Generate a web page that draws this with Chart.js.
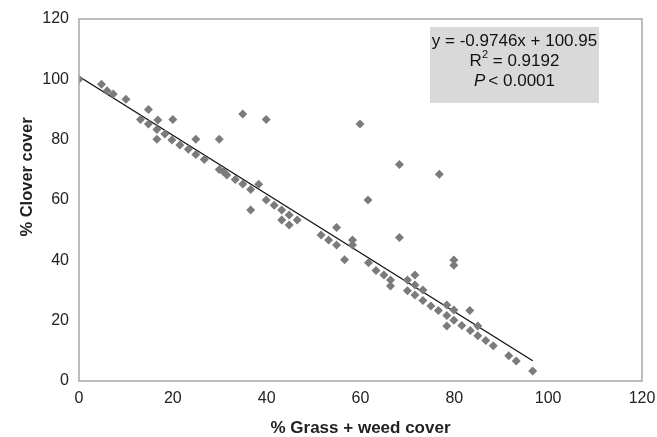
<!DOCTYPE html>
<html>
<head>
<meta charset="utf-8">
<script src="https://cdn.jsdelivr.net/npm/chart.js@4"></script>
<style>
  html, body { margin: 0; padding: 0; background: #fff; }
  #wrap { width: 657px; height: 437px; position: relative; }
</style>
</head>
<body>
<div id="wrap"><canvas id="cloverChart"></canvas></div>
<script>
// Datuak: belar + sasi estaldura (x) eta hirusta estaldura (y)
const grassCover = [
  0, 4.8, 6.0, 7.3, 10.0, 13.1, 14.8, 14.8, 16.6, 16.8,
  16.6, 18.3, 19.8, 20.0, 21.5, 23.3, 24.9, 24.9, 26.7, 29.9,
  29.9, 30.8, 31.5, 33.3, 34.9, 34.9, 36.6, 36.6, 38.3, 39.9,
  39.9, 41.6, 43.2, 44.8, 43.2, 44.8, 46.5, 51.6, 53.2, 54.9,
  54.9, 56.6, 58.3, 58.3, 59.9, 61.6, 61.7, 63.3, 65.0, 66.4,
  66.4, 68.3, 68.3, 70.0, 70.0, 71.6, 71.6, 71.6, 73.3, 73.3,
  75.0, 76.6, 76.8, 78.4, 78.4, 78.4, 79.9, 79.9, 79.9, 79.9,
  81.6, 83.3, 83.4, 85.0, 85.0, 86.7, 88.3, 91.6, 93.2, 96.7
];
const cloverCover = [
  100, 98.4, 96.2, 95.1, 93.4, 86.7, 90.0, 85.2, 83.4, 86.5,
  80.1, 81.9, 79.9, 86.7, 78.2, 76.8, 80.1, 75.1, 73.4, 80.1,
  70.1, 69.4, 68.3, 66.8, 65.3, 88.5, 63.5, 56.7, 65.2, 86.7,
  60.0, 58.3, 56.7, 55.0, 53.4, 51.7, 53.4, 48.4, 46.7, 45.1,
  50.9, 40.2, 46.7, 45.1, 85.2, 60.0, 39.2, 36.6, 35.1, 33.5,
  31.5, 71.8, 47.6, 33.5, 29.9, 35.1, 31.8, 28.5, 30.2, 26.7,
  24.9, 23.4, 68.5, 25.2, 21.7, 18.2, 23.5, 20.1, 40.1, 38.4,
  18.4, 23.4, 16.7, 18.2, 15.0, 13.4, 11.7, 8.4, 6.6, 3.3
];
// Joera-lerroaren muturrak
const trendX = [0, 96.7];
const trendY = [100.95, 6.7];
const tickValues = [0, 20, 40, 60, 80, 100, 120];
const equationLines = ["y = -0.9746x + 100.95", "R2 = 0.9192", "P < 0.0001"];

const points = grassCover.map((x, i) => ({ x: x, y: cloverCover[i] }));
const trend = trendX.map((x, i) => ({ x: x, y: trendY[i] }));

const FONT = "'Liberation Sans', Arial, Helvetica, sans-serif";

// Grafikoaren markoa, Y ardatzaren izenburua eta ekuazio-koadroa
const decorPlugin = {
  id: "decor",
  afterDraw(chart) {
    const { ctx, chartArea } = chart;
    ctx.save();
    ctx.strokeStyle = "#a6a6a6";
    ctx.lineWidth = 1.5;
    ctx.strokeRect(chartArea.left, chartArea.top, chartArea.right - chartArea.left, chartArea.bottom - chartArea.top);

    // Y ardatzaren izenburua
    ctx.fillStyle = "#222";
    ctx.font = "bold 16.5px " + FONT;
    ctx.textAlign = "center";
    ctx.textBaseline = "middle";
    ctx.translate(27, 177);
    ctx.rotate(-Math.PI / 2);
    ctx.fillText("% Clover cover", 0, 0);
    ctx.setTransform(1, 0, 0, 1, 0, 0);

    // Ekuazio-koadroa
    const bx = 430, by = 27, bw = 169, bh = 76;
    ctx.fillStyle = "#d9d9d9";
    ctx.fillRect(bx, by, bw, bh);
    const cx = bx + bw / 2;
    ctx.fillStyle = "#111";
    ctx.textBaseline = "middle";
    ctx.textAlign = "left";

    ctx.font = "17px " + FONT;
    let w = ctx.measureText(equationLines[0]).width;
    ctx.fillText(equationLines[0], cx - w / 2, 41);

    // R^2
    const rW = ctx.measureText("R").width;
    const restText = " = 0.9192";
    const restW = ctx.measureText(restText).width;
    ctx.font = "11px " + FONT;
    const supW = ctx.measureText("2").width;
    let sx = cx - (rW + supW + restW) / 2;
    ctx.font = "17px " + FONT;
    ctx.fillText("R", sx, 61);
    ctx.font = "11px " + FONT;
    ctx.fillText("2", sx + rW, 55);
    ctx.font = "17px " + FONT;
    ctx.fillText(restText, sx + rW + supW, 61);

    // P < 0.0001
    ctx.font = "italic 17px " + FONT;
    const pW = ctx.measureText("P").width;
    ctx.font = "17px " + FONT;
    const pRest = "< 0.0001";
    const pRestW = ctx.measureText(pRest).width;
    sx = cx - (pW + 3 + pRestW) / 2;
    ctx.font = "italic 17px " + FONT;
    ctx.fillText("P", sx, 81);
    ctx.font = "17px " + FONT;
    ctx.fillText(pRest, sx + pW + 3, 81);
    ctx.restore();
  }
};

const ctx = document.getElementById("cloverChart").getContext("2d");

new Chart(ctx, {
  type: "scatter",
  data: {
    datasets: [
      {
        label: "Estaldura",
        data: points,
        pointStyle: "rectRot",
        pointRadius: 4.5,
        pointHoverRadius: 4.5,
        backgroundColor: "#7b7b7b",
        borderColor: "#7b7b7b",
        borderWidth: 0,
      },
      {
        type: "line",
        label: "Joera",
        data: trend,
        borderColor: "#111",
        borderWidth: 1.3,
        pointRadius: 0,
        fill: false,
      },
    ],
  },
  options: {
    responsive: true,
    maintainAspectRatio: false,
    animation: false,
    layout: { padding: { top: 19, right: 15, left: 0, bottom: 0 } },
    plugins: {
      legend: { display: false },
      tooltip: { enabled: false },
    },
    scales: {
      x: {
        type: "linear",
        min: 0,
        max: 120,
        afterBuildTicks: (scale) => { scale.ticks = tickValues.map((v) => ({ value: v })); },
        afterFit: (scale) => {
          scale.height = 56;
          scale.paddingLeft = 0;
          scale.paddingRight = 0;
        },
        grid: { display: false, drawTicks: false },
        border: { display: false },
        ticks: { color: "#222", padding: 8, font: { size: 16, family: FONT }, maxRotation: 0 },
        title: {
          display: true,
          text: "% Grass + weed cover",
          color: "#222",
          font: { size: 17, weight: "bold", family: FONT, lineHeight: 1 },
          padding: { top: 0, bottom: 0 },
        },
      },
      y: {
        type: "linear",
        min: 0,
        max: 120,
        afterBuildTicks: (scale) => { scale.ticks = tickValues.map((v) => ({ value: v })); },
        afterFit: (scale) => {
          scale.width = 79;
          scale.paddingTop = 0;
          scale.paddingBottom = 0;
        },
        grid: { display: false, drawTicks: false },
        border: { display: false },
        ticks: { color: "#222", padding: 10, font: { size: 16, family: FONT } },
      },
    },
  },
  plugins: [decorPlugin],
});
</script>
</body>
</html>
